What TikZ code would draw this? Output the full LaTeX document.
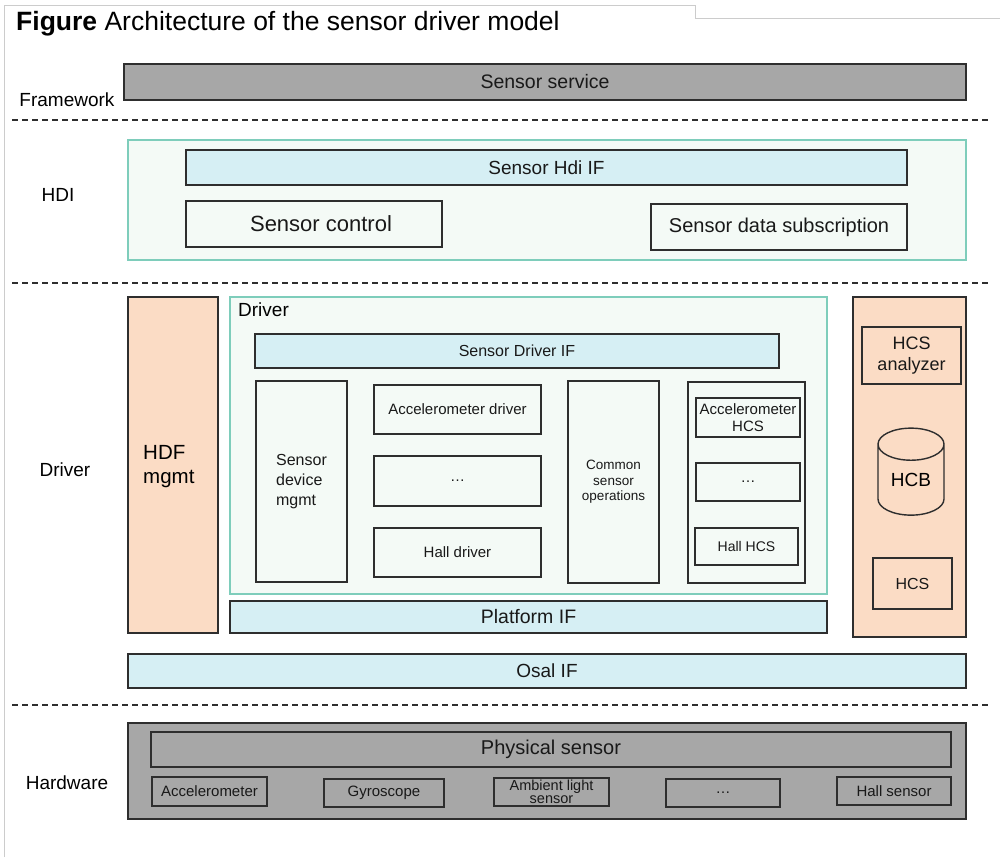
\documentclass[tikz,border=0pt]{standalone}
\usepackage{fontspec}
\setmainfont{Liberation Sans}
\usepackage{tikz}
\usetikzlibrary{positioning}
\usetikzlibrary{shapes.geometric}
\definecolor{layergray}{HTML}{A7A7A7}
\definecolor{paleteal}{HTML}{F4FAF6}
\definecolor{tealline}{HTML}{7ECDBB}
\definecolor{ifblue}{HTML}{D6EFF4}
\definecolor{peach}{HTML}{FBDCC5}
\definecolor{edge}{HTML}{2E2E2E}
\definecolor{framegray}{HTML}{CCCCCC}
\tikzstyle{blk} = [rectangle, draw=edge, line width=1.4pt, inner sep=0pt, align=center, text=black!90]
\tikzstyle{graybox} = [blk, fill=layergray]
\tikzstyle{container} = [rectangle, draw=tealline, line width=1.4pt, fill=paleteal, inner sep=0pt]
\tikzstyle{ifbar} = [blk, fill=ifblue]
\tikzstyle{peachcol} = [blk, fill=peach]
\tikzstyle{layerlabel} = [inner sep=0pt, font=\fontsize{19}{22}\selectfont]
\tikzstyle{sep} = [dash pattern=on 6pt off 4pt, line width=1.2pt, draw=edge]

\begin{document}
\begin{tikzpicture}[x=1pt, y=-1pt]
    \useasboundingbox (0,0) rectangle (1000,857);
    % Frame and title
    \draw [framegray, line width=1pt] (4,857) -- (4,5) -- (695,5) -- (695,18) -- (1000,18);
    \node (title) [anchor=west, inner sep=0pt, font=\fontsize{26.5}{30}\selectfont] at (16,24) {\textbf{Figure} Architecture of the sensor driver model};
    % Framework
    \node (fw_label) [layerlabel] at (67,100) {Framework};
    \node (sensor_service) [graybox, minimum width=842pt, minimum height=36pt, font=\fontsize{19.5}{22}\selectfont] at (545,82) {Sensor service};
    \draw [sep] (12,120) -- (990,120);
    % HDI
    \node (hdi_label) [layerlabel] at (58,195) {HDI};
    \node (hdi_box) [container, minimum width=838pt, minimum height=120pt] at (547,200) {};
    \node (hdi_if) [ifbar, minimum width=721pt, minimum height=35pt, font=\fontsize{19}{22}\selectfont] at (546.5,167.5) {Sensor Hdi IF};
    \node (sensor_ctrl) [blk, minimum width=256pt, minimum height=46pt, font=\fontsize{22}{25}\selectfont] at (314,224) {\hspace*{14pt}Sensor control};
    \node (data_sub) [blk, minimum width=256pt, minimum height=46pt, font=\fontsize{20}{23}\selectfont] at (779,227) {Sensor data subscription};
    \draw [sep] (12,283) -- (990,283);
    % Driver
    \node (drv_label) [layerlabel] at (65,470) {Driver};
    \node (hdf_mgmt) [peachcol, minimum width=90pt, minimum height=336pt] at (173,465) {};
    \node (hdf_text) [anchor=west, align=left, inner sep=0pt, font=\fontsize{20.5}{24}\selectfont] at (143,467) {HDF\\mgmt};
    \node (driver_box) [container, minimum width=597pt, minimum height=297pt] at (528.5,445.5) {};
    \node (driver_title) [anchor=west, inner sep=0pt, font=\fontsize{19}{22}\selectfont] at (238,310) {Driver};
    \node (drv_if) [ifbar, minimum width=524pt, minimum height=34pt, font=\fontsize{16}{19}\selectfont] at (517,351) {Sensor Driver IF};
    \node (dev_mgmt) [blk, minimum width=91pt, minimum height=201pt, align=left, font=\fontsize{16}{20}\selectfont] at (301.5,481.5) {Sensor\\device\\mgmt};
    \node (acc_drv) [blk, minimum width=167pt, minimum height=49pt, font=\fontsize{15}{18}\selectfont] at (457.5,409.5) {Accelerometer driver};
    \node (dots_drv) [blk, minimum width=167pt, minimum height=50pt, font=\fontsize{15}{18}\selectfont] at (457.5,481) {\dots};
    \node (hall_drv) [blk, minimum width=167pt, minimum height=49pt, font=\fontsize{15}{18}\selectfont] at (457.5,552.5) {Hall driver};
    \node (common_ops) [blk, minimum width=91pt, minimum height=202pt, font=\fontsize{13.5}{15.5}\selectfont] at (613.5,482) {Common\\sensor\\operations};
    \node (hcs_grp) [blk, minimum width=117pt, minimum height=201pt] at (746.5,482.5) {};
    \node (acc_hcs) [blk, minimum width=104pt, minimum height=39pt, font=\fontsize{15}{16.5}\selectfont] at (748,417.5) {Accelerometer\\HCS};
    \node (dots_hcs) [blk, minimum width=104pt, minimum height=38pt, font=\fontsize{15}{18}\selectfont] at (748,482) {\dots};
    \node (hall_hcs) [blk, minimum width=103pt, minimum height=37pt, font=\fontsize{14}{17}\selectfont] at (746.5,546.5) {Hall HCS};
    \node (platform_if) [ifbar, minimum width=597pt, minimum height=32pt, font=\fontsize{19.5}{22}\selectfont] at (528.5,617) {Platform IF};
    % HCS column
    \node (hcs_col) [peachcol, minimum width=113pt, minimum height=340pt] at (909.5,467) {};
    \node (hcs_an) [blk, minimum width=99pt, minimum height=57pt, font=\fontsize{18}{21}\selectfont] at (911.5,355.5) {HCS\\analyzer};
    \node (hcb) [cylinder, shape border rotate=90, draw=edge, line width=1.4pt, aspect=0.8, minimum width=66pt, minimum height=87pt, inner sep=0pt, font=\fontsize{19}{22}\selectfont] at (911,480) {HCB};
    \node (hcs) [blk, minimum width=79pt, minimum height=51pt, font=\fontsize{16}{19}\selectfont] at (912.5,583.5) {HCS};
    \node (osal_if) [ifbar, minimum width=838pt, minimum height=34pt, font=\fontsize{19}{22}\selectfont] at (547,671) {Osal IF};
    \draw [sep] (12,705) -- (990,705);
    % Hardware
    \node (hw_label) [layerlabel] at (67,783) {Hardware};
    \node (hw_box) [graybox, minimum width=838pt, minimum height=96pt] at (547,771) {};
    \node (phys) [graybox, minimum width=800pt, minimum height=35pt, font=\fontsize{20}{23}\selectfont] at (551,749.5) {Physical sensor};
    \node (hw_acc) [graybox, minimum width=115pt, minimum height=29pt, font=\fontsize{15}{18}\selectfont] at (209.5,791.5) {Accelerometer};
    \node (hw_gyro) [graybox, minimum width=120pt, minimum height=28pt, font=\fontsize{15}{18}\selectfont] at (384,793) {Gyroscope};
    \node (hw_amb) [graybox, minimum width=115pt, minimum height=28pt, font=\fontsize{14.5}{13.5}\selectfont] at (551.5,792) {Ambient light\\sensor};
    \node (hw_dots) [graybox, minimum width=114pt, minimum height=28pt, font=\fontsize{15}{18}\selectfont] at (723,793) {\dots};
    \node (hw_hall) [graybox, minimum width=114pt, minimum height=28pt, font=\fontsize{15}{18}\selectfont] at (894,791) {Hall sensor};
\end{tikzpicture}
\end{document}
